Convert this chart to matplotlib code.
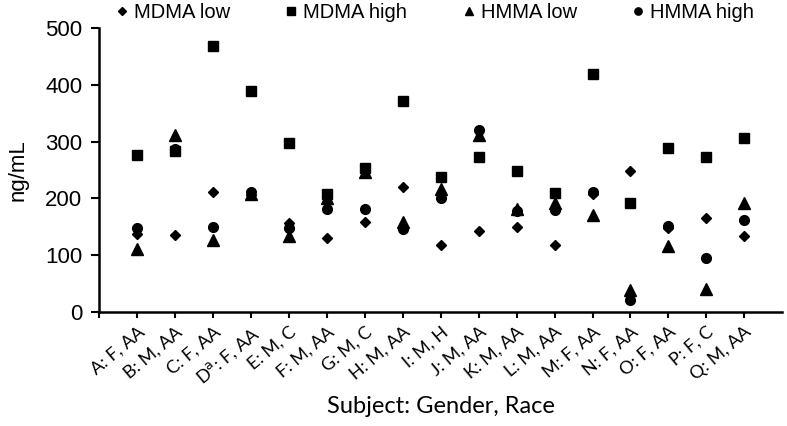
import numpy as np
import matplotlib.pyplot as plt

# Subjects (x categories)
subjects = ['A: F, AA', 'B: M, AA', 'C: F, AA', 'D$^{\\mathrm{a}}$: F, AA', 'E: M, C',
            'F: M, AA', 'G: M, C', 'H: M, AA', 'I: M, H', 'J: M, AA', 'K: M, AA',
            'L: M, AA', 'M: F, AA', 'N: F, AA', 'O: F, AA', 'P: F, C', 'Q: M, AA']

# Concentrations (ng/mL)
mdma_low = [137, 136, 211, 206, 157, 130, 158, 220, 118, 142, 150, 117, 208, 249, 147, 165, 133]
mdma_high = [277, 284, 468, 389, 297, 208, 253, 371, 237, 273, 249, 209, 420, 192, 288, 272, 306]
hmma_low = [111, 312, 127, 208, 133, 200, 246, 158, 217, 312, 182, 192, 170, 38, 116, 41, 192]
hmma_high = [147, 287, 150, 211, 148, 182, 182, 146, 201, 321, 178, 179, 211, 20, 151, 95, 162]

x = np.arange(1, len(subjects) + 1)

plt.rcParams['font.family'] = ['Liberation Sans', 'DejaVu Sans']
cond_font = ['Lato', 'Liberation Sans']

fig = plt.figure(figsize=(7.87, 4.26), dpi=100)
ax = fig.add_axes([0.126, 0.268, 0.868, 0.666])

ax.plot(x, mdma_low, linestyle='none', marker='D', ms=5.5, color='black', label='MDMA low')
ax.plot(x, mdma_high, linestyle='none', marker='s', ms=7, color='black', label='MDMA high')
ax.plot(x, hmma_low, linestyle='none', marker='^', ms=8, color='black', label='HMMA low')
ax.plot(x, hmma_high, linestyle='none', marker='o', ms=7, color='black', label='HMMA high')

ax.set_xlim(0, 18)
ax.set_ylim(0, 500)
ax.set_yticks([0, 100, 200, 300, 400, 500])
ax.set_xticks(np.arange(0, 18))
ax.set_xticklabels([''] + subjects, rotation=40, ha='right', va='top',
                   rotation_mode='anchor', fontsize=13, family=cond_font)

for side in ['top', 'right']:
    ax.spines[side].set_visible(False)
for side in ['left', 'bottom']:
    ax.spines[side].set_linewidth(1.8)

ax.tick_params(axis='y', length=6, width=1.5, labelsize=16, pad=6)
ax.tick_params(axis='x', length=4.5, width=1.5, pad=4)

ax.set_ylabel('ng/mL', fontsize=16, labelpad=12)
ax.set_xlabel('Subject: Gender, Race', fontsize=17, family=cond_font, va='center')
ax.xaxis.set_label_coords(0.5, -0.335)

fig.legend(loc='upper left', bbox_to_anchor=(0.124, 1.035), ncol=4, frameon=False,
           fontsize=14.5, markerscale=0.75, handlelength=0.6, handletextpad=0.3,
           columnspacing=2.75)

fig.savefig('out.png', dpi=100)
